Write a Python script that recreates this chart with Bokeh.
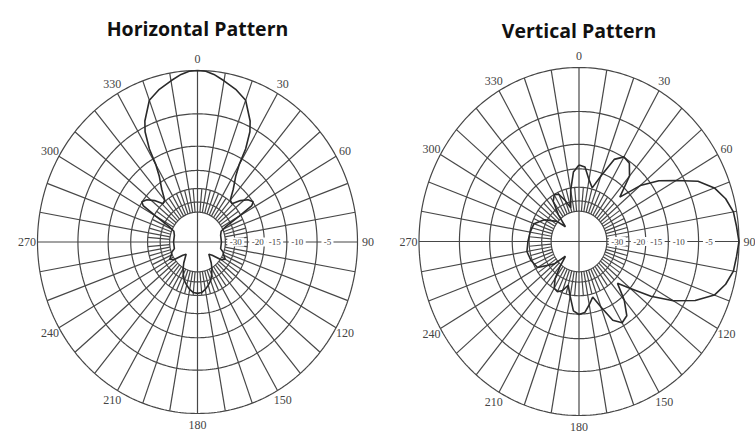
import numpy as np
from bokeh.plotting import figure
from bokeh.layouts import row
from bokeh.models import Range1d
from bokeh.core.properties import value
from bokeh.embed import file_html
from bokeh.resources import INLINE

# ---------------- data ----------------
TITLES = ["Horizontal Pattern", "Vertical Pattern"]
ANGLE_TICKS = [0, 30, 60, 90, 120, 150, 180, 210, 240, 270, 300, 330]
RING_DB = [0, -5, -10, -15, -20, -25, -30]
SCALE_LABELS = ["-30", "-20", "-15", "-10", "-5"]
SCALE_LABEL_DB = [-30, -20, -15, -10, -5]

# horizontal pattern (azimuth deg, relative level dB)
H_ANGLE = [0, 3, 6, 10, 15, 20, 25, 27, 29, 30, 32, 36, 40, 44, 48, 52, 56, 58, 60, 63, 67,
           75, 90, 105, 110, 115, 120, 125, 130, 135, 140, 145, 150, 155, 160, 165, 170, 175,
           180, 185, 190, 195, 200, 205, 210, 215, 220, 225, 230, 235, 240, 245, 250, 255,
           270, 285, 293, 297, 300, 302, 304, 308, 312, 316, 320, 324, 328, 330, 331, 333,
           335, 340, 345, 350, 354, 357]
H_DB = [0.0, -0.05, -0.3, -0.8, -1.4, -2.2, -4.3, -5.6, -8.2, -11.2, -13.7, -16.6, -19.6, -20.1,
        -17.5, -15.7, -14.9, -15.7, -20.7, -27.6, -31.4,
        -32.6, -32.6, -32.6, -30.4, -29.4, -27.6, -29.4, -36.4, -39.5, -36.4, -32.6, -29.4,
        -26.8, -24.5, -23.1, -21.8, -20.9,
        -20.7, -20.9, -21.8, -23.1, -24.5, -26.8, -29.4, -32.6, -36.4, -39.5, -36.4, -29.4,
        -27.6, -29.4, -30.4, -32.6,
        -32.6, -32.6, -31.4, -27.6, -20.7, -15.7, -14.9, -15.7, -17.5, -20.1, -19.6, -16.6,
        -13.7, -11.2, -8.2, -5.6,
        -4.3, -2.2, -1.4, -0.8, -0.3, -0.05]

# vertical pattern (elevation deg, relative level dB)
V_ANGLE = [0, 5, 10, 15, 20, 25, 30, 35, 40, 45, 50, 55, 60, 65, 70, 75, 80, 85, 90, 95,
           100, 105, 110, 115, 120, 125, 130, 135, 140, 145, 150, 155, 160, 165, 170, 175,
           180, 185, 190, 195, 200, 205, 210, 215, 220, 225, 230, 240, 250, 260, 270, 280,
           290, 300, 310, 315, 320, 325, 330, 335, 340, 345, 350, 355]
V_DB = [-14.1, -14.5, -17.5, -19.6, -15.7, -11.2, -9.9, -10.3, -12.2, -17.5, -11.9, -8.5,
        -6.1, -3.4, -1.8, -0.9, -0.35, -0.2, 0.0, -0.2, -0.35, -0.9, -1.8, -3.8, -6.6,
        -10.3, -14.9, -18.5, -14.1, -11.2, -10.6, -11.9, -15.7, -19.0, -17.1, -15.3,
        -14.9, -15.7, -19.6, -23.1, -20.7, -19.6, -20.1, -23.1, -29.4, -36.4, -27.6,
        -20.7, -19.6, -19.0, -19.6, -20.1, -20.7, -23.8, -29.4, -36.4, -27.6, -21.8,
        -20.1, -20.7, -23.8, -27.6, -20.7, -15.7]

# ---------------- styling / layout ----------------
GRID = "#474747"
TRACE = "#2a2a2a"
LABEL_COLOR = "#444444"
SERIF = value("Liberation Serif")


def db_to_r(db):
    # log-periodic radial scale (each 2 dB -> x0.89 in radius)
    return 0.89 ** (-np.asarray(db, dtype=float) / 2.0)


def to_xy(ang_deg, r):
    a = np.radians(np.asarray(ang_deg, dtype=float))
    return r * np.sin(a), r * np.cos(a)


def polar_panel(title, ang, db, width, height, cx_px, cy_px, rx_px, ry_px, title_y_px):
    x0 = -cx_px / rx_px
    x1 = (width - cx_px) / rx_px
    y1 = cy_px / ry_px
    y0 = -(height - cy_px) / ry_px
    p = figure(width=width, height=height, output_backend="svg", toolbar_location=None,
               x_range=Range1d(x0, x1), y_range=Range1d(y0, y1),
               x_axis_location=None, y_axis_location=None, min_border=0)
    p.xgrid.visible = False
    p.ygrid.visible = False
    p.outline_line_color = None
    p.background_fill_color = "white"
    p.border_fill_color = "white"

    r_in = float(db_to_r(-30))
    r_mid = float(db_to_r(-20))
    # spokes
    xs, ys = [], []
    for a in range(0, 360, 10):
        if a % 90 == 0:
            continue
        sx, sy = to_xy([a, a], np.array([r_in, 1.0]))
        xs.append(list(sx)); ys.append(list(sy))
    for a in range(5, 360, 10):
        sx, sy = to_xy([a, a], np.array([r_in, r_mid]))
        xs.append(list(sx)); ys.append(list(sy))
    # full axes
    xs.append([-1.0, 1.0]); ys.append([0.0, 0.0])
    xs.append([0.0, 0.0]); ys.append([-1.0, 1.0])
    p.multi_line(xs, ys, line_color=GRID, line_width=1.2)
    # rings
    t = np.linspace(0, 360, 361)
    rxs, rys = [], []
    for d in RING_DB:
        cx, cy = to_xy(t, float(db_to_r(d)))
        rxs.append(list(cx)); rys.append(list(cy))
    p.multi_line(rxs, rys, line_color=GRID, line_width=1.2)

    # pattern
    aa = list(ang) + [ang[0]]
    dd = list(db) + [db[0]]
    px, py = to_xy(aa, db_to_r(dd))
    p.line(px, py, line_color=TRACE, line_width=1.6)

    # angle labels
    lx, ly = to_xy(ANGLE_TICKS, 1.065)
    p.text(x=list(lx), y=list(ly), text=[str(a) for a in ANGLE_TICKS],
           text_font=SERIF, text_font_size="12px", text_color=LABEL_COLOR,
           text_align="center", text_baseline="middle")
    # radial scale labels on white patches that interrupt the axis
    sr = list(db_to_r(SCALE_LABEL_DB) + 0.065)
    widths = [5.0 * len(s) + 2 for s in SCALE_LABELS]
    p.rect(x=sr, y=[0.0] * len(sr), width=widths, height=[9] * len(sr),
           width_units="screen", height_units="screen",
           fill_color="white", line_color=None)
    p.text(x=sr, y=[0.0] * len(sr), text=SCALE_LABELS,
           text_font=SERIF, text_font_size="9px", text_color=LABEL_COLOR,
           text_align="center", text_baseline="middle")
    # title
    p.text(x=[0.0], y=[(cy_px - title_y_px) / ry_px], text=[title],
           text_font=value("Open Sans"), text_font_style="bold", text_font_size="19.5px",
           text_color="#111111", text_align="center", text_baseline="middle")
    return p


p1 = polar_panel(TITLES[0], H_ANGLE, H_DB, 378, 433, 197, 241.5, 160, 171.5, 28)
p2 = polar_panel(TITLES[1], V_ANGLE, V_DB, 377, 433, 200.5, 241, 160, 174, 30)
layout = row(p1, p2, spacing=0)

open("out.html", "w").write(file_html(layout, INLINE))
